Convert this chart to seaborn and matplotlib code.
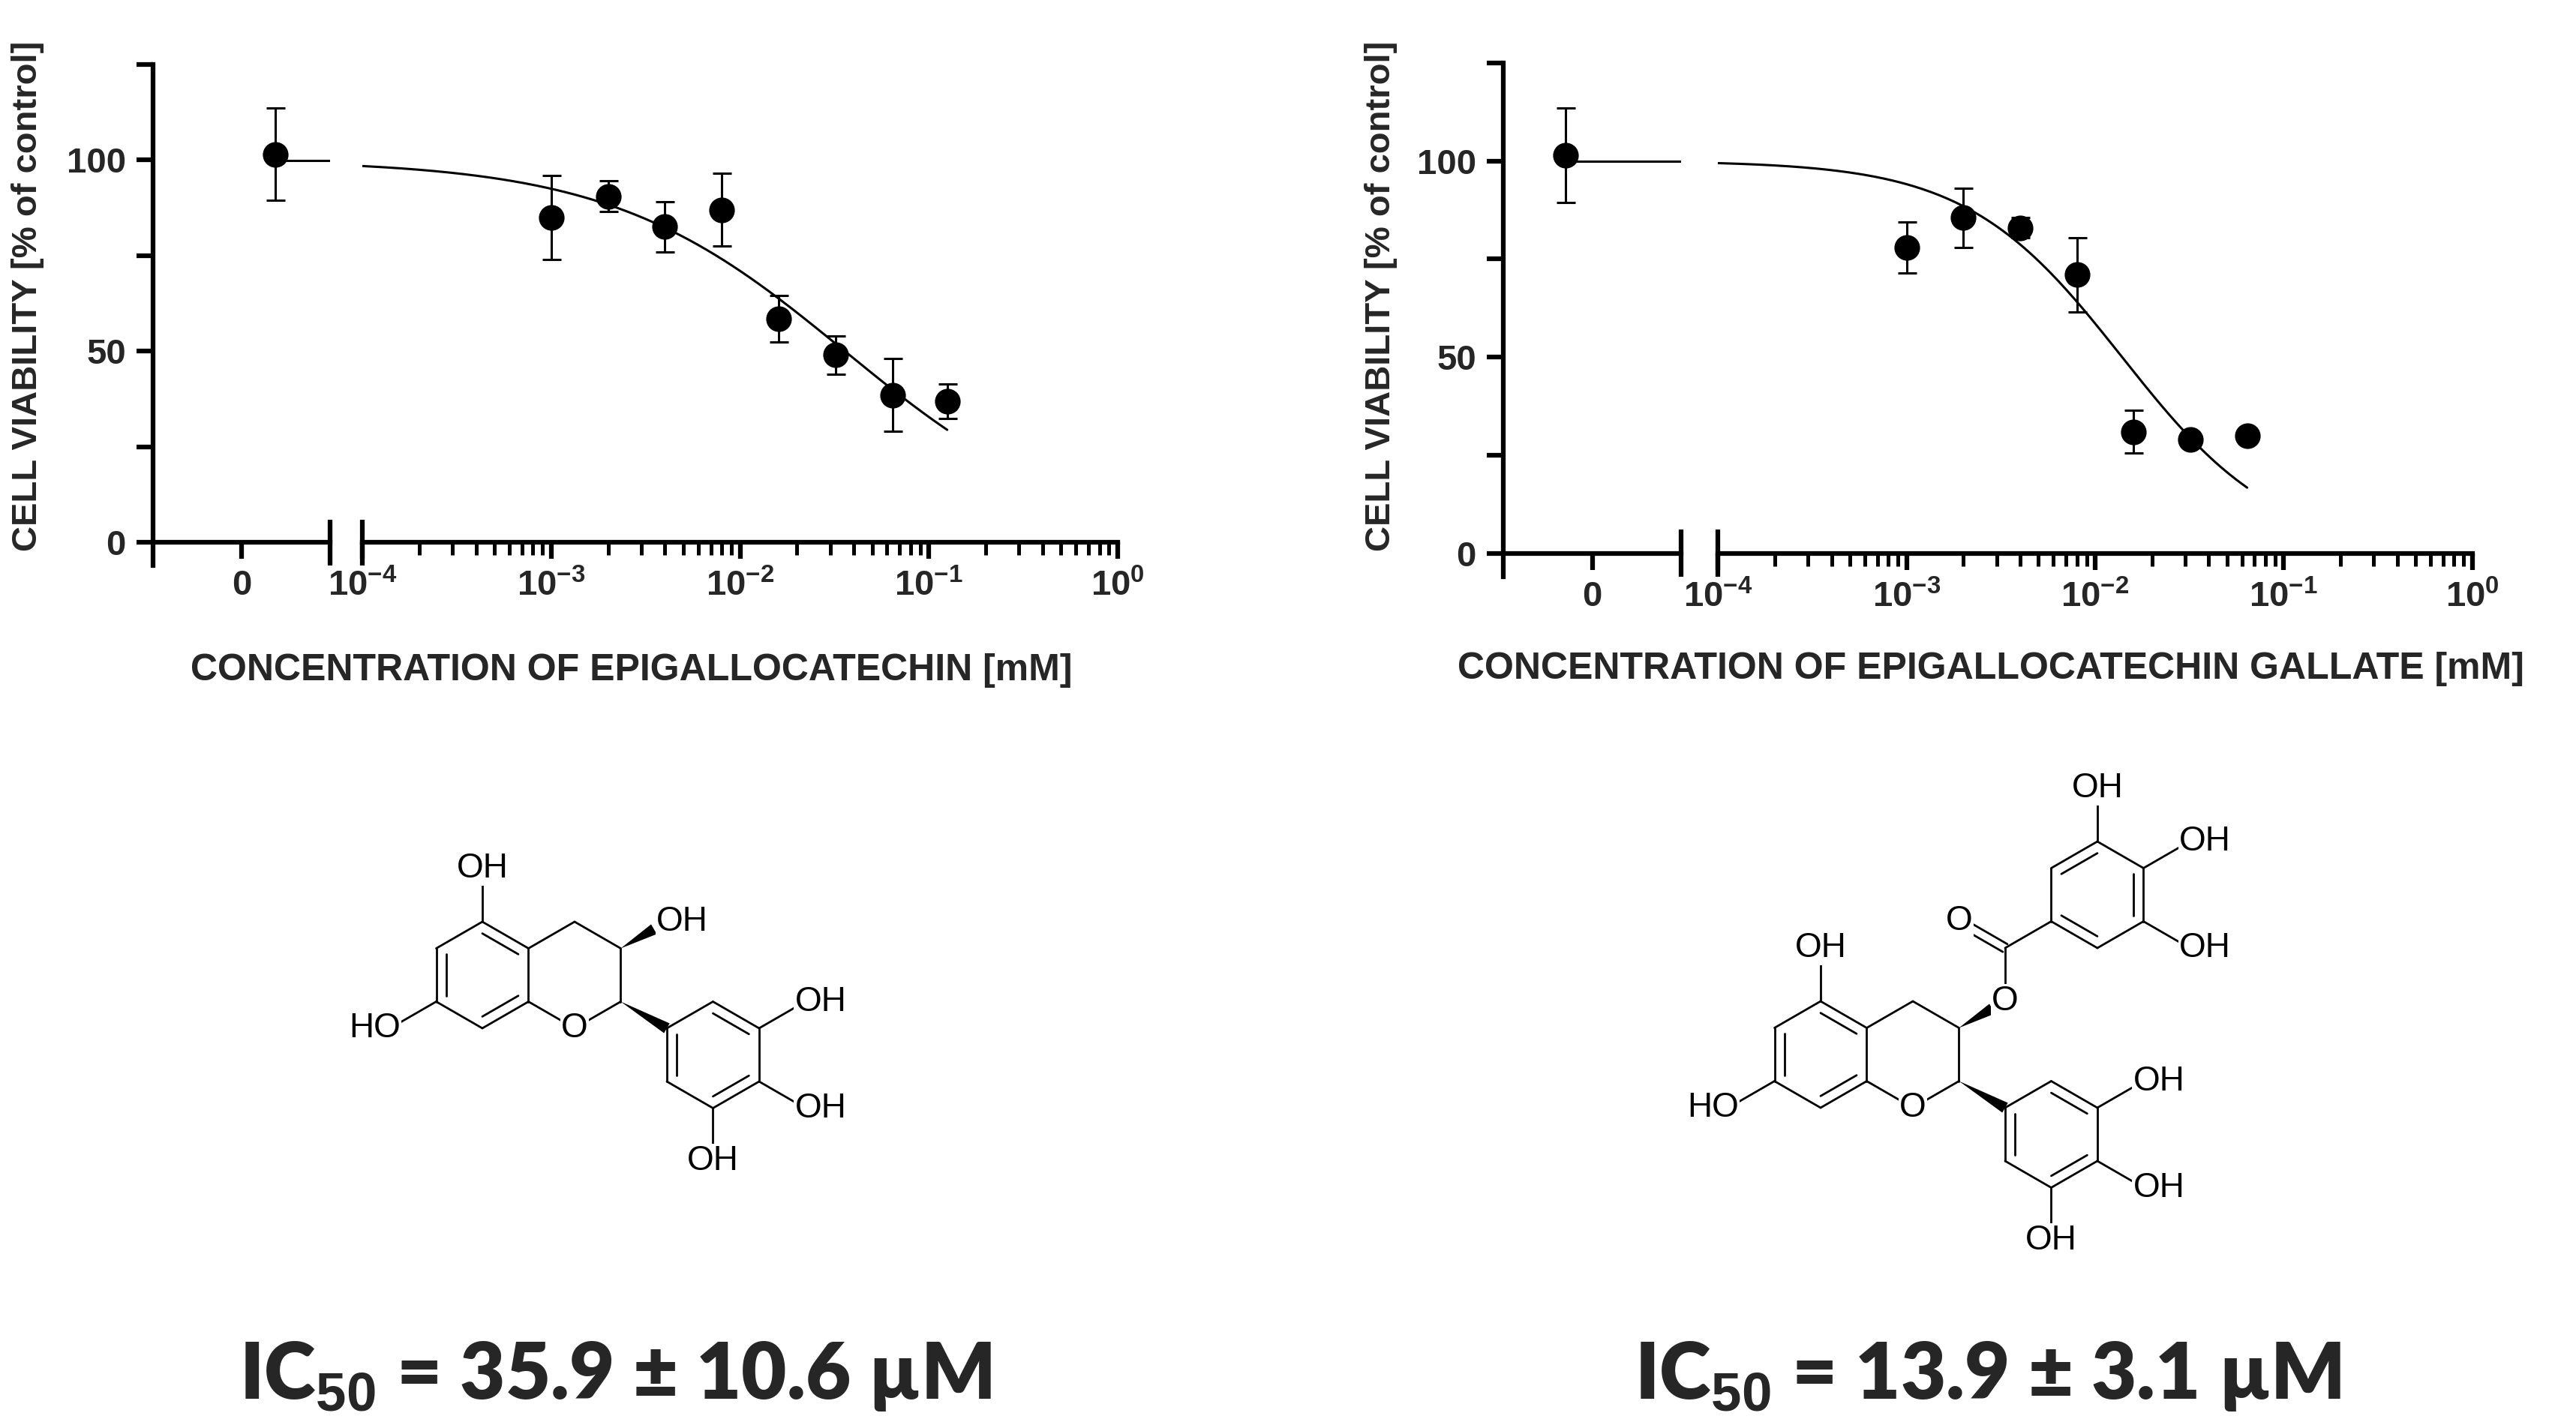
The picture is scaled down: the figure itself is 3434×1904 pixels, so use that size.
import numpy as np
import matplotlib
matplotlib.use("Agg")
import matplotlib.pyplot as plt
import seaborn as sns
from matplotlib.patches import Polygon

sns.set_style("white")
plt.rcParams['font.family'] = ['Liberation Sans', 'DejaVu Sans']
plt.rcParams['mathtext.fontset'] = 'custom'
plt.rcParams['mathtext.rm'] = 'Liberation Sans:weight=bold'
plt.rcParams['mathtext.default'] = 'rm'
plt.rcParams['xtick.bottom'] = True
plt.rcParams['ytick.left'] = True

# ------------------------------------------------------------------
# Data
# ------------------------------------------------------------------
ctrl_mean = 101.5
ctrl_sd = 12.0

egc_conc = [0.001, 0.002, 0.004, 0.008, 0.016, 0.032, 0.064, 0.125]
egc_mean = [85, 90.5, 82.5, 87, 58.5, 49, 38.5, 37]
egc_sd = [11, 4, 6.5, 9.5, 6, 5, 9.5, 4.5]
egc_fit = dict(top=100, bottom=0, ic50=0.0359, hill=0.7)

egcg_conc = [0.001, 0.002, 0.004, 0.008, 0.016, 0.032, 0.064]
egcg_mean = [78, 85.5, 83, 71, 31, 29, 30]
egcg_sd = [6.5, 7.5, 2.5, 9.5, 5.5, 0, 0]
egcg_fit = dict(top=100, bottom=0, ic50=0.0139, hill=1.05)

x_tick_vals = [1e-4, 1e-3, 1e-2, 1e-1, 1e0]
x_tick_labels = ['10$^{-4}$', '10$^{-3}$', '10$^{-2}$', '10$^{-1}$', '10$^{0}$']
y_tick_vals = [0, 25, 50, 75, 100, 125]
y_tick_labels = ['0', '', '50', '', '100', '']

panels = [
    dict(name='CONCENTRATION OF EPIGALLOCATECHIN [mM]', conc=egc_conc, mean=egc_mean,
         sd=egc_sd, fit=egc_fit, ctrl_x=0.38,
         ax_l=[0.0594, 0.604, 0.0687, 0.351], ax_r=[0.1407, 0.604, 0.2932, 0.351],
         ylab=(37, 395), xlab=(842, 894), ic=(820, 1835), ic_text='35.9 ± 10.6 µM'),
    dict(name='CONCENTRATION OF EPIGALLOCATECHIN GALLATE [mM]', conc=egcg_conc, mean=egcg_mean,
         sd=egcg_sd, fit=egcg_fit, ctrl_x=-0.3,
         ax_l=[0.5836, 0.596, 0.069, 0.36], ax_r=[0.667, 0.596, 0.2927, 0.36],
         ylab=(1841, 395), xlab=(2654, 892), ic=(2650, 1835), ic_text='13.9 ± 3.1 µM'),
]

W, H = 3434, 1904
fig = plt.figure(figsize=(W / 100, H / 100), dpi=100)
LW = 4.5
TICK_FS = 34


def logistic(x, top, bottom, ic50, hill):
    return bottom + (top - bottom) / (1 + (x / ic50) ** hill)


for p in panels:
    axl = fig.add_axes(p['ax_l'])
    axr = fig.add_axes(p['ax_r'])
    for ax in (axl, axr):
        ax.set_ylim(-6, 125)
        ax.spines['top'].set_visible(False)
        ax.spines['right'].set_visible(False)
        ax.spines['bottom'].set_position(('data', 0))
        for s in ('left', 'bottom'):
            ax.spines[s].set_linewidth(LW)
            ax.spines[s].set_color('black')
        ax.tick_params(axis='both', which='major', length=16, width=LW, color='black',
                       labelsize=TICK_FS, pad=10, bottom=True, left=True)
        ax.tick_params(axis='x', which='minor', length=12, width=LW * 0.8, color='black',
                       bottom=True)
        ax.set_facecolor('none')

    # left (control) axis
    axl.set_xlim(-1, 1)
    axl.set_xticks([0])
    axl.set_xticklabels(['0'], fontweight='bold')
    axl.set_yticks(y_tick_vals)
    axl.set_yticklabels(y_tick_labels, fontweight='bold')
    axl.plot([1, 1], [-6, 6], color='black', lw=LW, clip_on=False, solid_capstyle='butt')

    top_val = logistic(1e-6, **p['fit'])
    axl.plot([p['ctrl_x'], 1], [top_val, top_val], color='black', lw=2.2)
    axl.errorbar([p['ctrl_x']], [ctrl_mean], yerr=[ctrl_sd], fmt='none', ecolor='black',
                 elinewidth=2.2, capsize=9, capthick=2.2)
    sns.scatterplot(x=[p['ctrl_x']], y=[ctrl_mean], ax=axl, color='black', s=520,
                    edgecolor='black', zorder=5, legend=False)

    # right (log) axis
    axr.set_xscale('log')
    axr.set_xlim(1e-4, 1)
    axr.spines['left'].set_visible(False)
    axr.tick_params(axis='y', left=False, labelleft=False)
    axr.set_xticks(x_tick_vals)
    axr.set_xticklabels(x_tick_labels, fontweight='bold')
    axr.plot([1e-4, 1e-4], [-6, 6], color='black', lw=LW, clip_on=False, solid_capstyle='butt')

    xs = np.logspace(-4, np.log10(p['conc'][-1]), 200)
    sns.lineplot(x=xs, y=logistic(xs, **p['fit']), ax=axr, color='black', lw=2.2)
    axr.errorbar(p['conc'], p['mean'], yerr=p['sd'], fmt='none', ecolor='black',
                 elinewidth=2.2, capsize=9, capthick=2.2)
    sns.scatterplot(x=p['conc'], y=p['mean'], ax=axr, color='black', s=520,
                    edgecolor='black', zorder=5, legend=False)

    fig.text(p['ylab'][0] / W, 1 - p['ylab'][1] / H, 'CELL VIABILITY [% of control]',
             rotation=90, ha='center', va='center', fontsize=34, fontweight='bold')
    fig.text(p['xlab'][0] / W, 1 - p['xlab'][1] / H, p['name'],
             ha='center', va='center', fontsize=36, fontweight='bold')
    fig.text(p['ic'][0] / W, 1 - p['ic'][1] / H, 'IC$_{50}$ = ' + p['ic_text'],
             ha='center', va='center', fontsize=75, fontweight='heavy',
             family=['Lato', 'DejaVu Sans'])

# ------------------------------------------------------------------
# Chemical structures (pixel coordinates, y down)
# ------------------------------------------------------------------
mol = fig.add_axes([0, 0, 1, 1])
mol.set_xlim(0, W)
mol.set_ylim(H, 0)
mol.axis('off')
mol.set_facecolor('none')

BL = 71
BLW = 2.0
LAB_FS = 33


def d(a):
    return np.array([np.cos(np.radians(a)), -np.sin(np.radians(a))])


def hexagon(c):
    return [c + BL * d(a) for a in (90, 30, -30, -90, -150, 150)]


def bond(p, q):
    mol.plot([p[0], q[0]], [p[1], q[1]], color='black', lw=BLW, solid_capstyle='round')


def inner(p, q, c, f=0.22):
    bond(p + (c - p) * f, q + (c - q) * f)


def ring(c, doubles):
    v = hexagon(c)
    for i in range(6):
        bond(v[i], v[(i + 1) % 6])
    for i, j in doubles:
        inner(v[i], v[j], c)
    return v


def wedge(p, q, frac=1.0, width=15):
    e = p + (q - p) * frac
    n = np.array([-(q - p)[1], (q - p)[0]])
    n = n / np.linalg.norm(n) * width / 2
    mol.add_patch(Polygon([p, e + n, e - n], closed=True, color='black', lw=0))


def label(pt, txt, side='c'):
    kw = dict(fontsize=LAB_FS, va='center', color='black',
              bbox=dict(facecolor='white', edgecolor='none', pad=1))
    if side == 'r':
        mol.text(pt[0] - 14, pt[1], txt, ha='left', **kw)
    elif side == 'l':
        mol.text(pt[0] + 14, pt[1], txt, ha='right', **kw)
    else:
        mol.text(pt[0], pt[1], txt, ha='center', **kw)


def catechin_core(cA, gallate=False):
    cA = np.array(cA, dtype=float)
    A = ring(cA, [(0, 1), (2, 3), (4, 5)])
    cC = cA + np.array([np.sqrt(3) * BL, 0])
    C = hexagon(cC)
    bond(A[1], C[0]); bond(C[0], C[1]); bond(C[1], C[2]); bond(C[2], C[3]); bond(C[3], A[2])
    # substituents on ring A
    o5 = A[0] + BL * d(90); bond(A[0], o5)
    o7 = A[4] + BL * d(-150); bond(A[4], o7)
    # ring B
    b1 = C[2] + BL * d(-30)
    wedge(C[2], b1)
    cB = b1 + BL * d(-30)
    B = ring(cB, [(5, 4), (0, 1), (2, 3)])
    ob = [B[1] + BL * d(30), B[2] + BL * d(-30), B[3] + BL * d(-90)]
    for a, o in zip(B[1:4], ob):
        bond(a, o)
    label(C[3], 'O')
    label(o5, 'OH', 'c')
    label(o7, 'HO', 'l')
    label(ob[0], 'OH', 'r'); label(ob[1], 'OH', 'r'); label(ob[2], 'OH', 'c')
    o3 = C[1] + BL * d(30)
    wedge(C[1], o3, frac=0.72)
    if not gallate:
        label(o3, 'OH', 'r')
        return
    cc = o3 + BL * d(90)
    bond(o3, cc)
    od = cc + BL * d(150)
    off = 6 * d(60)
    bond(cc + off, od + off); bond(cc - off, od - off)
    g1 = cc + BL * d(30)
    bond(cc, g1)
    cG = g1 + BL * d(30)
    G = ring(cG, [(5, 0), (1, 2), (3, 4)])
    og = [G[0] + BL * d(90), G[1] + BL * d(30), G[2] + BL * d(-30)]
    for a, o in zip(G[0:3], og):
        bond(a, o)
    label(o3, 'O')
    label(od, 'O')
    label(og[0], 'OH', 'c'); label(og[1], 'OH', 'r'); label(og[2], 'OH', 'r')


catechin_core((643, 1300))
catechin_core((2427, 1406), gallate=True)

fig.savefig('out.png', dpi=100)
